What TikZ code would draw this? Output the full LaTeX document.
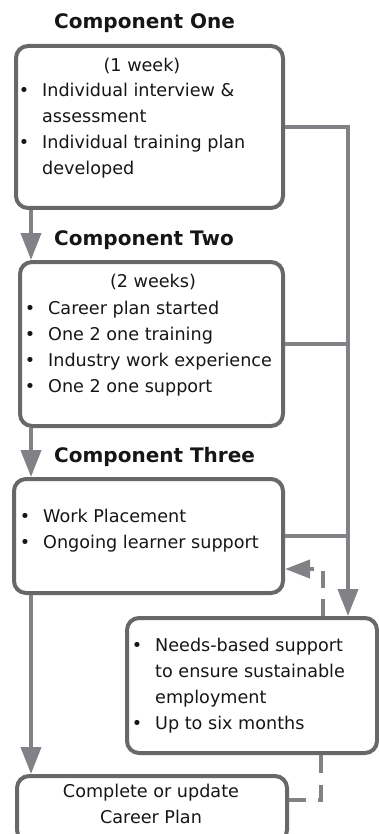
\documentclass[tikz,border=0pt]{standalone}
\usepackage{fontspec}
\setmainfont{DejaVu Sans}
\usetikzlibrary{arrows.meta,calc}

\definecolor{boxgray}{RGB}{104,104,104}
\definecolor{linkgray}{RGB}{128,130,134}
\definecolor{inkgray}{RGB}{22,22,22}

\tikzset{
  stage/.style={draw=boxgray, line width=4pt, rounded corners=12pt, fill=white,
    inner sep=0pt, anchor=north west},
  title/.style={font=\fontsize{20}{24}\selectfont\bfseries, text=inkgray,
    anchor=base west, inner sep=0pt},
  body/.style={font=\fontsize{17.6}{26}\selectfont, text=inkgray,
    anchor=base west, inner sep=0pt, align=left},
  link/.style={draw=linkgray, line width=4pt},
  flow/.style={link, -{Triangle[length=27pt,width=20pt]}},
  back/.style={link, dash pattern=on 17pt off 11pt, -{Triangle[length=25pt,width=18pt]}},
  follow/.style={link, dash pattern=on 18pt off 12pt},
}
\newcommand{\bul}{\llap{\textbullet\hspace{13pt}}}

\begin{document}
\begin{tikzpicture}[x=1pt,y=-1pt]

        \useasboundingbox (0,0) rectangle (379,834);
        \clip (0,0) rectangle (379,834);

        % The five boxes
        \node[stage, minimum width=267pt, minimum height=162pt] (one) at (14,44) {};
        \node[stage, minimum width=263pt, minimum height=164pt] (two) at (18,260) {};
        \node[stage, minimum width=269pt, minimum height=114pt] (three) at (12,477) {};
        \node[stage, minimum width=250pt, minimum height=135pt] (four) at (125,616) {};
        \node[stage, minimum width=270pt, minimum height=66pt] (five) at (15,774) {};

        % Headings
        \node[title] (t1) at (54,29) {Component One};
        \node[title] (t2) at (54,245) {Component Two};
        \node[title] (t3) at (54,462) {Component Three};

        % Component One (multi-line nodes sit on their last baseline)
        \node[body, anchor=base] (w1) at (142,72) {(1 week)};
        \node[body] (l1) at (42,175) {\bul Individual interview \&\\assessment\\
          \bul Individual training plan\\developed};

        % Component Two
        \node[body, anchor=base] (w2) at (153,287) {(2 weeks)};
        \node[body] (l2) at (48,392) {\bul Career plan started\\\bul One 2 one training\\
          \bul Industry work experience\\\bul One 2 one support};

        % Component Three
        \node[body] (l3) at (43,548) {\bul Work Placement\\\bul Ongoing learner support};

        % Follow-up support
        \node[body] (l4) at (155,729) {\bul Needs-based support\\to ensure sustainable\\
          employment\\\bul Up to six months};

        % Career plan
        \node[body, align=center, anchor=base] (l5) at (151,823) {Complete or update\\Career Plan};

        % Main flow down the left
        \coordinate (lane) at (31,0);
        \draw[flow] (lane |- one.south) -- (lane |- two.north);
        \draw[flow] (lane |- two.south) -- (lane |- three.north);
        \draw[flow] (lane |- three.south) -- (lane |- five.north);

        % Bus on the right
        \coordinate (bus) at (348,0);
        \draw[flow] (one.east) -| (bus |- four.north);
        \draw[link] (two.east) -- (two.east -| bus);
        \draw[link] (three.east) -- (three.east -| bus);

        % Dashed loops
        \coordinate (ret) at (323,569);
        \draw[back] (four.north -| ret) |- (ret -| three.east);
        \coordinate (upd) at (321,800);
        \draw[follow] (four.south -| upd) |- (upd -| five.east);

    \end{tikzpicture}
\end{document}
